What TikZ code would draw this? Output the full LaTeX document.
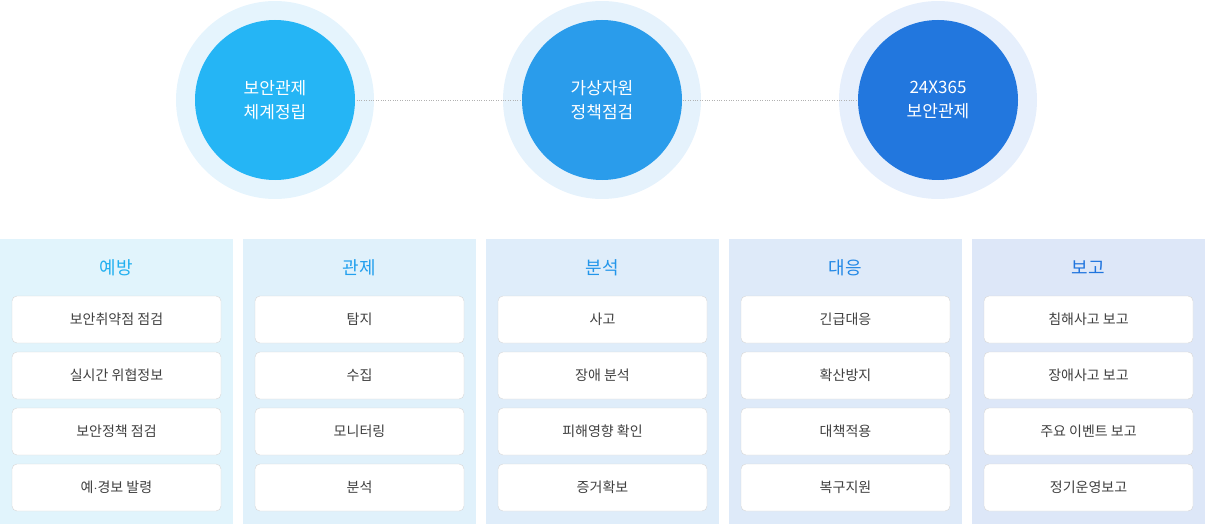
\documentclass[tikz,border=0pt]{standalone}
\usepackage{fontspec}
\newfontfamily\kr{Noto Sans CJK KR}
\definecolor{c1}{HTML}{25B5F5}\definecolor{c2}{HTML}{2A9CEB}\definecolor{c3}{HTML}{2277DE}
\definecolor{o1}{HTML}{E5F4FD}\definecolor{o2}{HTML}{E5F2FC}\definecolor{o3}{HTML}{E6EFFC}
\definecolor{b1}{HTML}{E1F4FC}\definecolor{b2}{HTML}{E0F1FB}\definecolor{b3}{HTML}{DFEDFA}\definecolor{b4}{HTML}{DEEAF9}\definecolor{b5}{HTML}{DDE7F8}
\definecolor{t1}{HTML}{22B0F0}\definecolor{t2}{HTML}{23A0EE}\definecolor{t3}{HTML}{2396EA}\definecolor{t4}{HTML}{2288E6}\definecolor{t5}{HTML}{1F74DE}
\tikzset{
 inner/.style={circle,minimum size=160pt,inner sep=0,text=white,font=\kr\fontsize{17}{24}\selectfont,align=center},
 outer/.style={circle,minimum size=198pt,inner sep=0},
 item/.style={draw=black!16,fill=white,rounded corners=5pt,minimum width=209pt,minimum height=47pt,font=\kr\fontsize{14}{16}\selectfont,text=black!75},
 ttl/.style={font=\kr\fontsize{18}{20}\selectfont}
}
\begin{document}
\begin{tikzpicture}[x=1pt,y=-1pt]
\useasboundingbox (0,0) rectangle (1205,524);
\node[outer,fill=o1] (o1) at (275,100) {};
\node[outer,fill=o2] (o2) at (602,100) {};
\node[outer,fill=o3] (o3) at (938,100) {};
\draw[black!30,dotted] (o1.center) -- (o2.center) -- (o3.center);
\node[inner,fill=c1] (a) at (275,100) {보안관제\\체계정립};
\node[inner,fill=c2] (b) at (602,100) {가상자원\\정책점검};
\node[inner,fill=c3] (c) at (938,100) {24X365\\보안관제};
\foreach \i/\x/\t/\a/\b/\c/\d in {
 1/0/예방/보안취약점 점검/실시간 위협정보/보안정책 점검/예$\cdot$경보 발령,
 2/243/관제/탐지/수집/모니터링/분석/대응,
 3/486/분석/사고/장애 분석/피해영향 확인/증거확보/원인규명 및 대책수립,
 4/729/대응/긴급대응/확산방지/대책적용/복구지원,
 5/972/보고/침해사고 보고/장애사고 보고/주요 이벤트 보고/정기운영보고}{
 \fill[b\i] (\x,239) rectangle ++(233,285);
 \node[ttl,text=t\i] (h\i) at (\x+116.5,268) {\t};
 \node[item] (p\i) at (\x+116.5,319.5) {\a};
 \node[item] (q\i) at (\x+116.5,375.5) {\b};
 \node[item] (r\i) at (\x+116.5,431.5) {\c};
 \node[item] (s\i) at (\x+116.5,487.5) {\d};
}
\end{tikzpicture}
\end{document}
